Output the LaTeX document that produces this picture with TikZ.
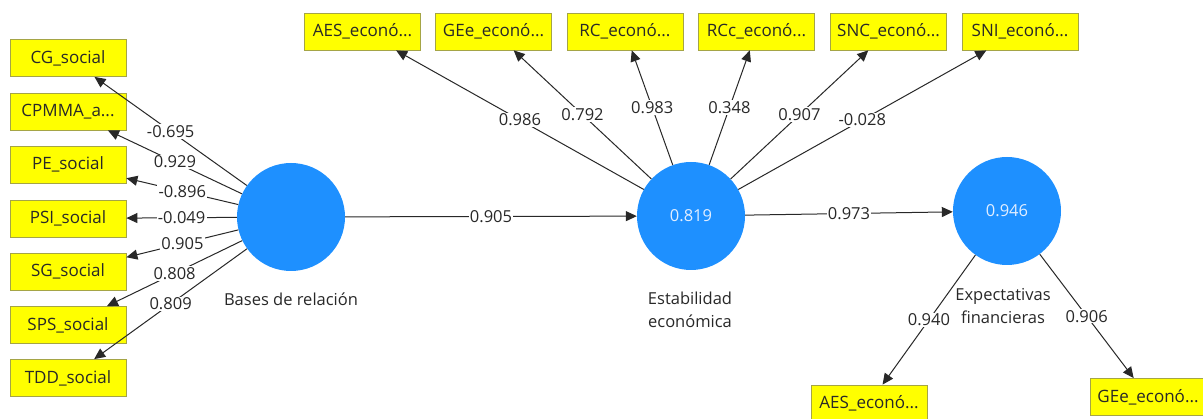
\documentclass[tikz,border=0pt]{standalone}
\usepackage{fontspec}
\setmainfont{Open Sans}
\usetikzlibrary{arrows.meta}
\definecolor{indyellow}{RGB}{255,255,0}
\definecolor{indborder}{RGB}{165,165,70}
\definecolor{latblue}{RGB}{30,144,255}
\definecolor{txtgray}{RGB}{40,40,40}
\definecolor{latlabel}{RGB}{225,238,255}
\begin{document}
\begin{tikzpicture}[x=1pt,y=-1pt,
  indicator/.style={draw=indborder, line width=0.8pt, fill=indyellow,
    minimum width=116pt, minimum height=37pt, inner sep=0pt,
    font=\fontsize{17}{19}\selectfont, text=txtgray},
  latent/.style={circle, fill=latblue, minimum size=108pt, inner sep=0pt,
    font=\fontsize{16.5}{19}\selectfont, text=latlabel},
  pathline/.style={draw=txtgray, line width=1pt, -{Triangle[length=11pt,width=10pt]}},
  coef/.style={fill=white, inner sep=1.2pt, font=\fontsize{16.5}{19}\selectfont, text=txtgray},
  lvname/.style={font=\fontsize{16.5}{23}\selectfont, text=txtgray, align=center}
]
\useasboundingbox[fill=white] (0,0) rectangle (1203,419);

% latent variables
\node[latent] (br) at (291,217) {};
\node[latent] (ee) at (691,216) {0.819};
\node[latent] (ef) at (1007,211) {0.946};

% names of the latent variables
\node[lvname] (brname) at (291,299) {Bases de relación};
\node[lvname] (eename) at (690,310) {Estabilidad\\económica};
\node[lvname] (efname) at (1003,306) {Expectativas\\financieras};

% indicators of Bases de relación
\node[indicator] (cg)    at (68,58)    {CG\_social};
\node[indicator] (cpmma) at (68,111.5) {CPMMA\_a...};
\node[indicator] (pe)    at (68,164.5) {PE\_social};
\node[indicator] (psi)   at (68,218.5) {PSI\_social};
\node[indicator] (sg)    at (68,271.5) {SG\_social};
\node[indicator] (sps)   at (68,325)   {SPS\_social};
\node[indicator] (tdd)   at (68,378)   {TDD\_social};

% indicators of Estabilidad económica
\node[indicator] (aes1) at (362.5,31.5) {AES\_econó...};
\node[indicator] (gee1) at (493.5,31.5) {GEe\_econó...};
\node[indicator] (rc)   at (625,31.5)   {RC\_econó...};
\node[indicator] (rcc)  at (756.5,31.5) {RCc\_econó...};
\node[indicator] (snc)  at (888.5,31.5) {SNC\_econó...};
\node[indicator] (sni)  at (1020,31.5)  {SNI\_econó...};

% indicators of Expectativas financieras
\node[indicator] (aes2) at (869,403.5) {AES\_econó...};
\node[indicator] (gee2) at (1148,397)  {GEe\_econó...};

% outer loadings
\draw[pathline] (br) -- node[coef]{-0.695} (cg);
\draw[pathline] (br) -- node[coef]{0.929} (cpmma);
\draw[pathline] (br) -- node[coef]{-0.896} (pe);
\draw[pathline] (br) -- node[coef]{-0.049} (psi);
\draw[pathline] (br) -- node[coef]{0.905} (sg);
\draw[pathline] (br) -- node[coef]{0.808} (sps);
\draw[pathline] (br) -- node[coef]{0.809} (tdd);

\draw[pathline] (ee) -- node[coef]{0.986} (aes1);
\draw[pathline] (ee) -- node[coef]{0.792} (gee1);
\draw[pathline] (ee) -- node[coef]{0.983} (rc);
\draw[pathline] (ee) -- node[coef]{0.348} (rcc);
\draw[pathline] (ee) -- node[coef]{0.907} (snc);
\draw[pathline] (ee) -- node[coef]{-0.028} (sni);

\draw[pathline] (ef) -- node[coef]{0.940} (aes2);
\draw[pathline] (ef) -- node[coef]{0.906} (gee2);

% structural paths
\draw[pathline] (br) -- node[coef]{0.905} (ee);
\draw[pathline] (ee) -- node[coef]{0.973} (ef);
\end{tikzpicture}
\end{document}
